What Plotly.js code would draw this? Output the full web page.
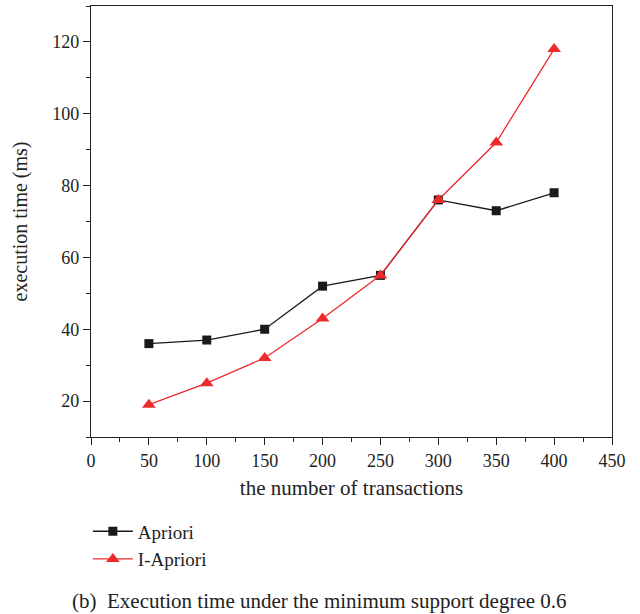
<!DOCTYPE html>
<html>
<head>
<meta charset="utf-8">
<script src="https://cdn.plot.ly/plotly-3.0.1.min.js"></script>
<style>html,body{margin:0;padding:0;background:#fff;}#chart{width:640px;height:614px;}</style>
</head>
<body>
<div id="chart"></div>
<script>
const transactions = [50, 100, 150, 200, 250, 300, 350, 400];
const aprioriTimes = [36, 37, 40, 52, 55, 76, 73, 78];
const iAprioriTimes = [19, 25, 32, 43, 55, 76, 92, 118];
const xTickValues = [0, 50, 100, 150, 200, 250, 300, 350, 400, 450];
const yTickValues = [20, 40, 60, 80, 100, 120];

const serif = "Liberation Serif, Times New Roman, serif";
const traces = [
  {x: transactions, y: aprioriTimes, name: 'Apriori', type: 'scatter', mode: 'lines+markers',
   line: {color: '#1a1a1a', width: 1.3}, marker: {symbol: 'square', size: 9, color: '#1a1a1a'}},
  {x: transactions, y: iAprioriTimes, name: 'I-Apriori', type: 'scatter', mode: 'lines+markers',
   line: {color: '#ee2b2b', width: 1.3}, marker: {symbol: 'triangle-up', size: 12, color: '#ee2b2b'}}
];
const axisCommon = {showgrid: false, zeroline: false, showline: true, linecolor: '#222', linewidth: 1.2,
  ticks: 'outside', ticklen: 7, tickcolor: '#222', tickfont: {family: serif, size: 18, color: '#222'}, mirror: true};
const layout = {
  width: 640, height: 614,
  margin: {l: 91, r: 28, t: 6, b: 177},
  paper_bgcolor: '#fff', plot_bgcolor: '#fff',
  font: {family: serif, color: '#222'},
  xaxis: Object.assign({}, axisCommon, {range: [0, 450], tickvals: xTickValues,
    minor: {dtick: 25, ticks: 'outside', ticklen: 4, tickcolor: '#222'},
    title: {text: 'the number of transactions', font: {family: serif, size: 21, color: '#222'}, standoff: 10}}),
  yaxis: Object.assign({}, axisCommon, {range: [10, 130], tickvals: yTickValues,
    minor: {dtick: 10, ticks: 'outside', ticklen: 4, tickcolor: '#222'},
    title: {text: 'execution time (ms)', font: {family: serif, size: 20, color: '#222'}, standoff: 19}}),
  showlegend: true,
  legend: {x: -0.006, y: -0.175, xanchor: 'left', yanchor: 'top', font: {family: serif, size: 19, color: '#222'},
    bgcolor: 'rgba(0,0,0,0)', tracegroupgap: 0, itemwidth: 40},
  annotations: [{xref: 'paper', yref: 'paper', x: 0.4386, y: -0.38, xanchor: 'center', yanchor: 'middle', showarrow: false,
    text: '(b)  Execution time under the minimum support degree 0.6', font: {family: serif, size: 21, color: '#222'}}]
};
Plotly.newPlot('chart', traces, layout, {displayModeBar: false, staticPlot: true});
</script>
</body>
</html>
